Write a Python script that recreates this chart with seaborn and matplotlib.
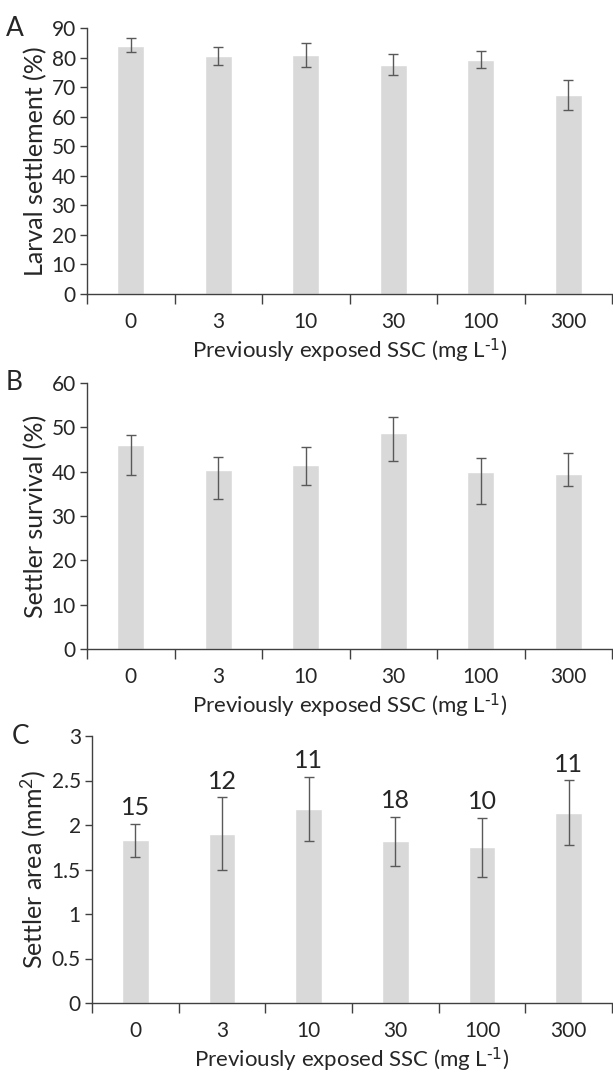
import numpy as np
import pandas as pd
import matplotlib
matplotlib.use("Agg")
import matplotlib.pyplot as plt
import seaborn as sns

sns.set_theme(style="white")
plt.rcParams['font.family'] = ['Lato', 'DejaVu Sans']
plt.rcParams['mathtext.default'] = 'regular'

categories = ["0", "3", "10", "30", "100", "300"]

settle_mean = [84.0, 80.5, 80.7, 77.6, 79.2, 67.3]
settle_hi = [86.5, 83.5, 84.8, 81.3, 82.2, 72.3]
settle_lo = [81.9, 77.6, 76.7, 74.1, 76.5, 62.4]

surv_mean = [46.0, 40.4, 41.6, 48.7, 39.9, 39.4]
surv_hi = [48.3, 43.2, 45.6, 52.4, 43.0, 44.3]
surv_lo = [39.2, 33.9, 37.1, 42.5, 32.6, 36.8]

area_mean = [1.826, 1.898, 2.179, 1.815, 1.748, 2.134]
area_hi = [2.014, 2.314, 2.543, 2.093, 2.081, 2.501]
area_lo = [1.635, 1.489, 1.823, 1.541, 1.414, 1.770]
area_n = ["15", "12", "11", "18", "10", "11"]

BAR = "#d9d9d9"
ERR = "#595959"
TXT = "#262626"
AX = "#404040"

fig = plt.figure(figsize=(6.13, 10.78), dpi=100)

W, H = 613, 1078
def rect(l, r, t, b):
    return [l / W, 1 - b / H, (r - l) / W, (b - t) / H]

panels = [
    dict(rect=rect(87, 612, 28, 294), mean=settle_mean, hi=settle_hi, lo=settle_lo,
         ylim=(0, 90), yt=np.arange(0, 91, 10), ytl=[str(v) for v in range(0, 91, 10)],
         ylabel="Larval settlement (%)", letter="A"),
    dict(rect=rect(87, 612, 383, 649), mean=surv_mean, hi=surv_hi, lo=surv_lo,
         ylim=(0, 60), yt=np.arange(0, 61, 10), ytl=[str(v) for v in range(0, 61, 10)],
         ylabel="Settler survival (%)", letter="B"),
    dict(rect=rect(92, 612, 736, 1003), mean=area_mean, hi=area_hi, lo=area_lo,
         ylim=(0, 3), yt=np.arange(0, 3.01, 0.5), ytl=["0", "0.5", "1", "1.5", "2", "2.5", "3"],
         ylabel="Settler area (mm$^{2}$)", letter="C", n=area_n),
]

for p in panels:
    ax = fig.add_axes(p["rect"])
    df = pd.DataFrame({"SSC": categories, "value": p["mean"]})
    sns.barplot(data=df, x="SSC", y="value", order=categories, color=BAR,
                width=0.31, errorbar=None, saturation=1, ax=ax)
    mean = np.array(p["mean"])
    yerr = np.vstack([mean - np.array(p["lo"]), np.array(p["hi"]) - mean])
    ax.errorbar(np.arange(len(categories)), mean, yerr=yerr, fmt="none",
                ecolor=ERR, elinewidth=1.0, capsize=3.5, capthick=1.0)
    if "n" in p:
        for i, lab in enumerate(p["n"]):
            ax.text(i, p["hi"][i] + 0.05, lab, ha="center", va="bottom",
                    fontsize=18, color=TXT)
    ax.set_xlim(-0.5, 5.5)
    ax.set_ylim(*p["ylim"])
    ax.set_yticks(p["yt"])
    ax.set_yticklabels(p["ytl"])
    ax.set_xticks(range(len(categories)))
    ax.set_xticklabels(categories)
    ax.set_xticks(np.arange(-0.5, 6.0, 1.0), minor=True)
    ax.tick_params(axis="x", which="major", length=0, labelsize=15, colors=TXT, pad=13)
    ax.tick_params(axis="x", which="minor", length=7, width=1, color=AX, direction="out", bottom=True)
    ax.tick_params(axis="y", length=5, width=1, color=AX, direction="out", left=True,
                   labelsize=15, labelcolor=TXT, pad=3)
    for s in ["top", "right"]:
        ax.spines[s].set_visible(False)
    for s in ["left", "bottom"]:
        ax.spines[s].set_color(AX)
        ax.spines[s].set_linewidth(1.0)
    ax.set_xlabel(r"Previously exposed SSC (mg L$^{\text{-1}}$)", fontsize=16, color=TXT, labelpad=3)
    ax.set_ylabel(p["ylabel"], fontsize=18, color=TXT, labelpad=3)
    ax.text(-0.155, 1.0, p["letter"], transform=ax.transAxes, fontsize=19,
            color=TXT, ha="left", va="center")

fig.savefig("out.png", dpi=100)
